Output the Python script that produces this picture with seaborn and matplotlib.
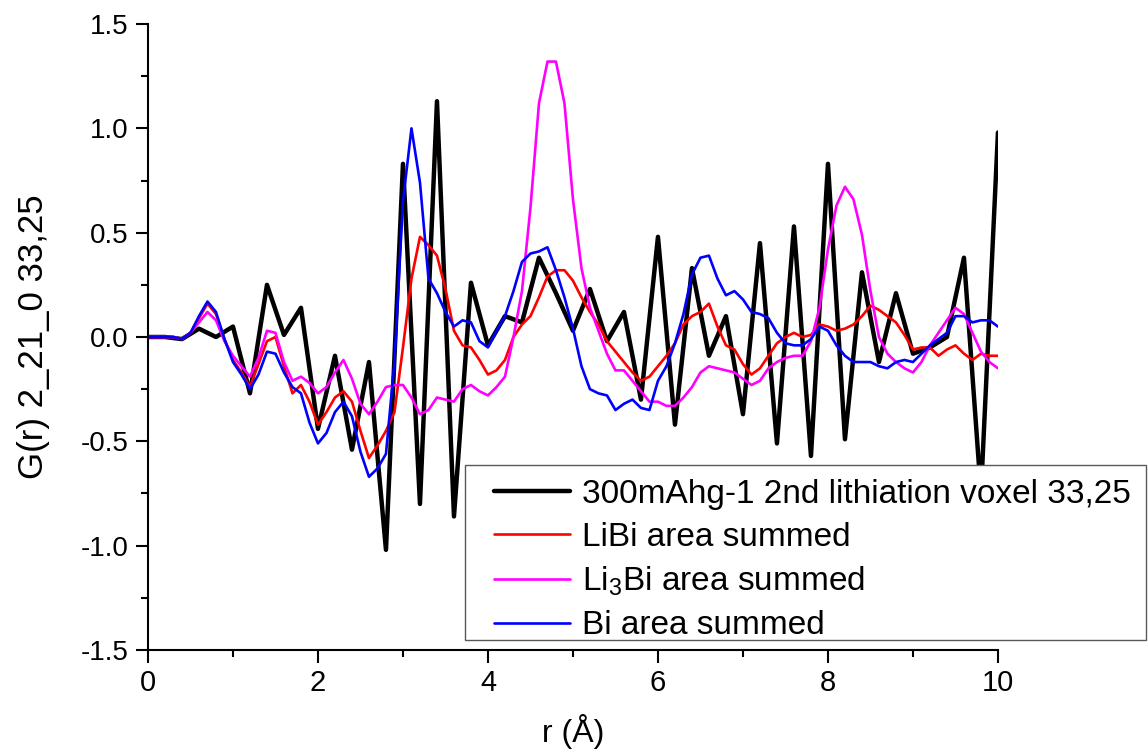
import matplotlib
matplotlib.use("Agg")
import matplotlib.pyplot as plt
import seaborn as sns
import numpy as np
from matplotlib.ticker import MultipleLocator, FormatStrFormatter
from matplotlib.patches import Rectangle

# data
r_voxel = np.round(np.arange(0, 10.01, 0.2), 1)
g_voxel = [0.0, 0.0, -0.01, 0.04, 0.0, 0.05, -0.27, 0.25, 0.01, 0.14,
           -0.44, -0.09, -0.54, -0.12, -1.02, 0.83, -0.80, 1.13, -0.86, 0.26,
           -0.04, 0.10, 0.07, 0.38, 0.21, 0.03, 0.23, -0.02, 0.12, -0.30,
           0.48, -0.42, 0.33, -0.09, 0.10, -0.37, 0.45, -0.51, 0.53, -0.57,
           0.83, -0.49, 0.31, -0.12, 0.21, -0.08, -0.05, 0.0, 0.38, -0.75,
           0.98]

r_fine = np.round(np.arange(0, 10.01, 0.1), 1)
g_libi = [0.0, 0.0, 0.0, 0.0, -0.01, 0.02, 0.09, 0.16, 0.11, -0.01,
          -0.11, -0.17, -0.24, -0.13, -0.02, 0.0, -0.14, -0.27, -0.23, -0.31,
          -0.42, -0.36, -0.29, -0.26, -0.31, -0.45, -0.58, -0.52, -0.45, -0.36,
          -0.05, 0.28, 0.48, 0.44, 0.39, 0.23, 0.03, -0.04, -0.05, -0.11,
          -0.18, -0.16, -0.11, 0.0, 0.06, 0.10, 0.19, 0.29, 0.32, 0.32,
          0.27, 0.19, 0.12, 0.06, -0.02, -0.07, -0.12, -0.17, -0.21, -0.19,
          -0.14, -0.09, -0.03, 0.06, 0.10, 0.12, 0.16, 0.05, -0.04, -0.06,
          -0.13, -0.18, -0.15, -0.09, -0.03, 0.0, 0.02, 0.0, 0.01, 0.06,
          0.05, 0.03, 0.04, 0.06, 0.10, 0.15, 0.13, 0.10, 0.07, 0.01,
          -0.06, -0.05, -0.05, -0.09, -0.06, -0.04, -0.08, -0.11, -0.08, -0.09,
          -0.09]
g_li3bi = [0.0, 0.0, 0.0, 0.0, -0.01, 0.02, 0.07, 0.12, 0.08, -0.02,
           -0.09, -0.14, -0.19, -0.10, 0.03, 0.02, -0.12, -0.21, -0.19, -0.22,
           -0.27, -0.24, -0.17, -0.11, -0.20, -0.32, -0.37, -0.31, -0.24, -0.23,
           -0.23, -0.29, -0.37, -0.35, -0.29, -0.30, -0.31, -0.25, -0.23, -0.26,
           -0.28, -0.24, -0.19, 0.0, 0.22, 0.62, 1.12, 1.32, 1.32, 1.12,
           0.66, 0.33, 0.14, 0.03, -0.08, -0.16, -0.16, -0.21, -0.26, -0.31,
           -0.31, -0.33, -0.33, -0.29, -0.24, -0.17, -0.14, -0.15, -0.16, -0.17,
           -0.20, -0.23, -0.21, -0.15, -0.12, -0.10, -0.09, -0.09, -0.02, 0.14,
           0.42, 0.63, 0.72, 0.66, 0.49, 0.22, 0.0, -0.08, -0.12, -0.15,
           -0.17, -0.12, -0.04, 0.02, 0.08, 0.14, 0.11, 0.02, -0.07, -0.12,
           -0.15]
g_bi = [0.0, 0.0, 0.0, 0.0, -0.01, 0.02, 0.10, 0.17, 0.12, -0.01,
        -0.12, -0.18, -0.25, -0.18, -0.07, -0.08, -0.17, -0.24, -0.27, -0.41,
        -0.51, -0.46, -0.36, -0.31, -0.38, -0.55, -0.67, -0.63, -0.56, -0.12,
        0.65, 1.0, 0.74, 0.28, 0.21, 0.12, 0.05, 0.08, 0.07, -0.02,
        -0.05, 0.03, 0.10, 0.22, 0.36, 0.40, 0.41, 0.43, 0.32, 0.19,
        0.04, -0.14, -0.25, -0.27, -0.28, -0.35, -0.32, -0.30, -0.34, -0.35,
        -0.21, -0.14, -0.03, 0.11, 0.30, 0.38, 0.39, 0.28, 0.20, 0.22,
        0.18, 0.12, 0.11, 0.09, 0.02, -0.03, -0.04, -0.04, -0.01, 0.05,
        0.03, -0.04, -0.09, -0.12, -0.12, -0.12, -0.14, -0.15, -0.12, -0.11,
        -0.12, -0.08, -0.04, -0.01, 0.02, 0.10, 0.10, 0.07, 0.08, 0.08,
        0.05]

labels = ["300mAhg-1 2nd lithiation voxel 33,25",
          "LiBi area summed",
          "Li$_3$Bi area summed",
          "Bi area summed"]

sns.set_theme(style="ticks")
plt.rcParams['font.family'] = ['Liberation Sans', 'DejaVu Sans']
plt.rcParams['mathtext.default'] = 'regular'
plt.rcParams['text.color'] = 'black'
plt.rcParams['axes.labelcolor'] = 'black'

fig = plt.figure(figsize=(11.48, 7.53), dpi=100)
ax = fig.add_axes([0.1289, 0.1368, 0.7404, 0.8313])

sns.lineplot(x=r_voxel, y=g_voxel, ax=ax, color='black', linewidth=3.2, label=labels[0])
sns.lineplot(x=r_fine, y=g_libi, ax=ax, color='#ff0000', linewidth=1.9, label=labels[1])
sns.lineplot(x=r_fine, y=g_li3bi, ax=ax, color='#ff00ff', linewidth=1.9, label=labels[2])
sns.lineplot(x=r_fine, y=g_bi, ax=ax, color='#0000ff', linewidth=1.9, label=labels[3])

ax.set_xlim(0, 10)
ax.set_ylim(-1.5, 1.5)
ax.xaxis.set_major_locator(MultipleLocator(2))
ax.xaxis.set_minor_locator(MultipleLocator(1))
ax.yaxis.set_major_locator(MultipleLocator(0.5))
ax.yaxis.set_minor_locator(MultipleLocator(0.25))
ax.yaxis.set_major_formatter(FormatStrFormatter('%.1f'))
ax.tick_params(which='major', direction='out', length=9, width=1.5, colors='black')
ax.tick_params(which='minor', direction='out', length=5, width=1.5, colors='black')
ax.tick_params(axis='y', labelsize=20, pad=5)
ax.tick_params(axis='x', labelsize=21, pad=5)

for side in ['top', 'right']:
    ax.spines[side].set_visible(False)
for side in ['left', 'bottom']:
    ax.spines[side].set_linewidth(1.5)
    ax.spines[side].set_color('black')

ax.set_xlabel("r (Å)", fontsize=23, labelpad=12)
ax.set_ylabel("G(r) 2_21_0 33,25", fontsize=25, labelpad=22)

# legend: white box with grey frame, entries placed inside it
handles, texts = ax.get_legend_handles_labels()
ax.get_legend().remove()
box = Rectangle((0.405, 0.150), 0.593, 0.232, transform=fig.transFigure,
                facecolor='white', edgecolor='0.35', linewidth=1.0, zorder=5)
fig.add_artist(box)
fig.legend(handles, texts, loc='upper left', bbox_to_anchor=(0.430, 0.364),
           fontsize=24, frameon=False, handlelength=2.3, labelspacing=0.36,
           borderpad=0, handletextpad=0.35, borderaxespad=0).set_zorder(6)

fig.savefig("out.png", dpi=100)
